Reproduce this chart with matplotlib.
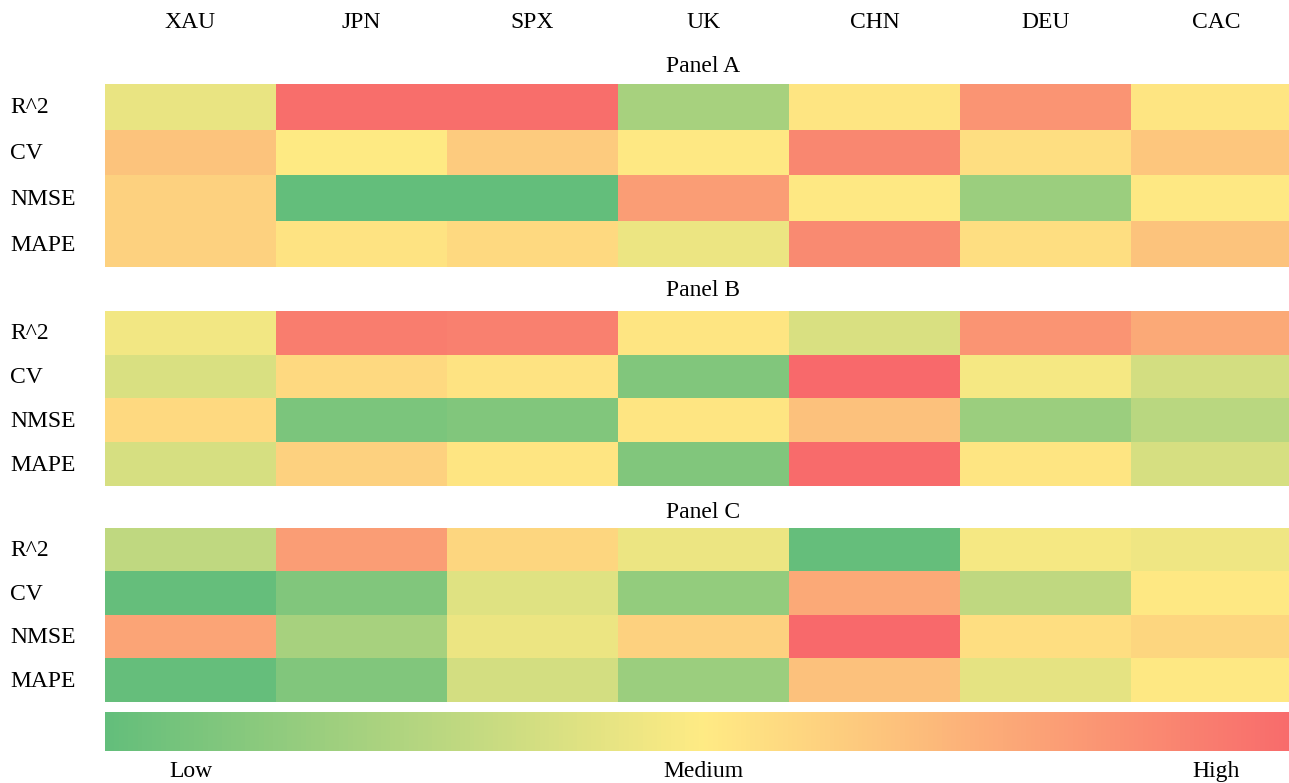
import numpy as np
import matplotlib
matplotlib.use("Agg")
import matplotlib.pyplot as plt
from matplotlib.colors import LinearSegmentedColormap, Normalize
from matplotlib.cm import ScalarMappable

plt.rcParams['font.family'] = ['Liberation Serif', 'DejaVu Serif']

markets = ["XAU", "JPN", "SPX", "UK", "CHN", "DEU", "CAC"]
metrics = ["R^2", "CV", "NMSE", "MAPE"]
panels = ["Panel A", "Panel B", "Panel C"]

# relative scores: 0 = low, 0.5 = medium, 1 = high
panel_a = [
    [0.43, 0.98, 0.98, 0.22, 0.52, 0.83, 0.52],
    [0.65, 0.50, 0.62, 0.51, 0.88, 0.55, 0.64],
    [0.60, 0.00, 0.00, 0.80, 0.51, 0.18, 0.51],
    [0.60, 0.53, 0.57, 0.44, 0.87, 0.55, 0.65],
]
panel_b = [
    [0.46, 0.92, 0.91, 0.52, 0.38, 0.83, 0.75],
    [0.38, 0.57, 0.53, 0.10, 1.00, 0.47, 0.36],
    [0.57, 0.08, 0.10, 0.52, 0.66, 0.18, 0.28],
    [0.37, 0.60, 0.52, 0.10, 0.99, 0.52, 0.37],
]
panel_c = [
    [0.30, 0.80, 0.58, 0.44, 0.01, 0.47, 0.45],
    [0.01, 0.10, 0.40, 0.16, 0.75, 0.30, 0.51],
    [0.77, 0.22, 0.44, 0.60, 1.00, 0.55, 0.58],
    [0.01, 0.10, 0.36, 0.18, 0.66, 0.42, 0.51],
]
scale_labels = ["Low", "Medium", "High"]

cmap = LinearSegmentedColormap.from_list(
    "gyr", ["#63BE7B", "#FFEB84", "#F8696B"])
norm = Normalize(0, 1)

W, H = 1289, 783
fig = plt.figure(figsize=(W / 100, H / 100), dpi=100)

left = 105
col_w = 171
grid_w = col_w * len(markets)
FS = 17


def px_axes(x0, top, w, bottom):
    return fig.add_axes([x0 / W, 1 - bottom / H, w / W, (bottom - top) / H])


# vertical extents (top, bottom) of each panel block, and title positions
blocks = [(84, 267), (311, 486), (528, 702)]
title_y = [67, 291, 512]

for data, name, (top, bottom), ty in zip([panel_a, panel_b, panel_c],
                                          panels, blocks, title_y):
    ax = px_axes(left, top, grid_w, bottom)
    ax.imshow(np.array(data), cmap=cmap, norm=norm, aspect="auto",
              interpolation="nearest")
    ax.set_axis_off()
    fig.text((left + grid_w / 2) / W, 1 - ty / H, name,
             ha="center", va="center", fontsize=FS)
    rh = (bottom - top) / len(metrics)
    for i, m in enumerate(metrics):
        fig.text(10 / W, 1 - (top + rh * (i + 0.5) + 1) / H, m,
                 ha="left", va="center", fontsize=FS)

# column headers
for j, mk in enumerate(markets):
    fig.text((left + col_w * (j + 0.5)) / W, 1 - 22 / H, mk,
             ha="center", va="center", fontsize=FS)

# gradient legend bar
cax = px_axes(left, 712, grid_w, 751)
cb = fig.colorbar(ScalarMappable(norm=norm, cmap=cmap), cax=cax,
                  orientation="horizontal")
cb.outline.set_visible(False)
cb.set_ticks([0.5 / 7, 0.5, 6.5 / 7])
cb.set_ticklabels(scale_labels)
cax.tick_params(length=0, pad=7, labelsize=FS)

fig.savefig("out.png", dpi=100)
